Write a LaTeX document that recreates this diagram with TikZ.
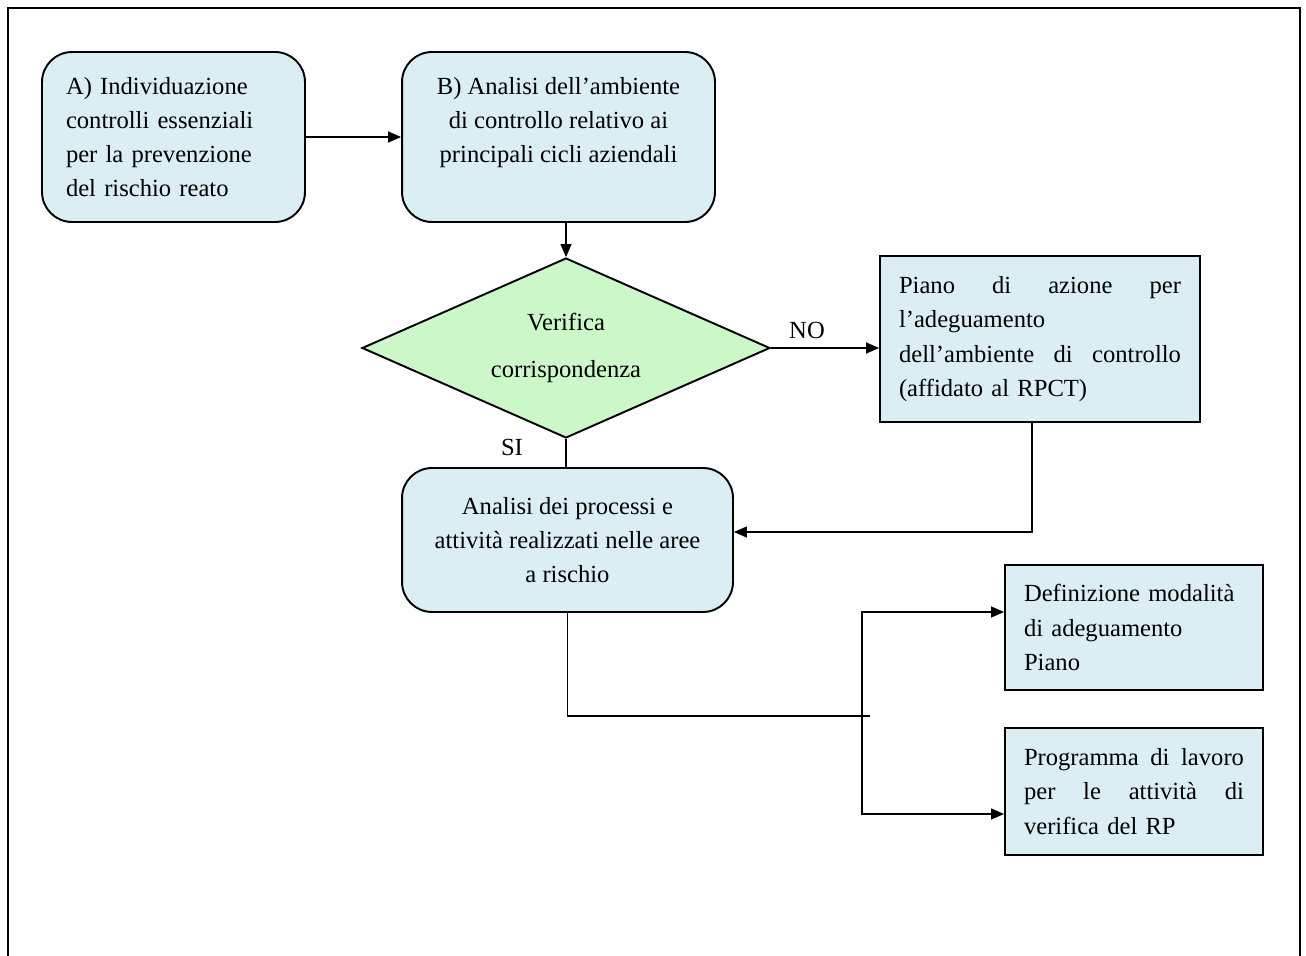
\documentclass[tikz,border=0pt]{standalone}
\usepackage{fontspec}
\setmainfont{Liberation Serif}
\usetikzlibrary{shapes.geometric,arrows.meta}
\definecolor{boxblue}{RGB}{219,238,243}
\definecolor{boxgreen}{RGB}{204,247,200}

\begin{document}
\begin{tikzpicture}[x=0.02cm, y=-0.02cm,
        font=\fontsize{14}{19.5}\selectfont,
        roundbox/.style={draw, line width=1.1pt, fill=boxblue, rounded corners=0.6cm, inner sep=0pt},
        flatbox/.style={draw, line width=1.1pt, fill=boxblue, inner sep=0pt},
        decision/.style={draw, line width=1.1pt, fill=boxgreen, diamond, aspect=2.27, inner sep=0pt},
        conn/.style={line width=0.8pt, -{Triangle[length=2.6mm, width=2.2mm]}},
        link/.style={line width=0.8pt}]
        \useasboundingbox (0,0) rectangle (1306,956);
        \draw [line width=1pt] (8,956) -- (8,8) -- (1300,8) -- (1300,956);
        \node (a) [roundbox, minimum width=5.26cm, minimum height=3.4cm, text width=4.3cm, align=left] at (173.5,137)
                {A) Individuazione\\ controlli essenziali\\ per la prevenzione\\ del rischio reato};
        \node (b) [roundbox, minimum width=6.26cm, minimum height=3.4cm, align=center] at (558.5,137)
                {B) Analisi dell'ambiente\\ di controllo relativo ai\\ principali cicli aziendali\\ \mbox{}};
        \node (ver) [decision, minimum width=8.16cm, minimum height=3.6cm, align=center] at (566,348)
                {Verifica\\[0.25cm] corrispondenza};
        \node (piano) [flatbox, minimum width=6.4cm, minimum height=3.32cm, text width=5.64cm, align=left] at (1040,339)
                {Piano \hfill di \hfill azione \hfill per\\ l'adeguamento\\ dell'ambiente \hfill di \hfill controllo\\ (affidato al RPCT)};
        \node (analisi) [roundbox, minimum width=6.62cm, minimum height=2.88cm, align=center] at (567.5,540)
                {Analisi dei processi e\\ attività realizzati nelle aree\\ a rischio};
        \node (def) [flatbox, minimum width=5.16cm, minimum height=2.5cm, text width=4.4cm, align=left] at (1134,627.5)
                {Definizione modalità\\ di adeguamento\\ Piano};
        \node (prog) [flatbox, minimum width=5.16cm, minimum height=2.54cm, text width=4.4cm, align=left] at (1134,791.5)
                {Programma \hfill di \hfill lavoro\\ per \hfill le \hfill attività \hfill di\\ verifica del RP};
        \node (no) at (807,330) {NO};
        \node (si) at (512,447) {SI};
        \coordinate (split) at (862,716);
        \draw [conn] (a) -- (b);
        \draw [conn] (b.south -| ver.north) -- (ver.north);
        \draw [conn] (ver.east) -- (ver.east -| piano.west);
        \draw [link] (ver.south) -- (ver.south |- analisi.north);
        \draw [conn] ([xshift=-0.16cm]piano.south) |- ([yshift=0.16cm]analisi.east);
        \draw [link] (analisi.south) |- ([xshift=0.16cm]split);
        \draw [conn] (split) |- ([yshift=0.31cm]def.west);
        \draw [conn] (split) |- ([yshift=-0.45cm]prog.west);
\end{tikzpicture}
\end{document}
